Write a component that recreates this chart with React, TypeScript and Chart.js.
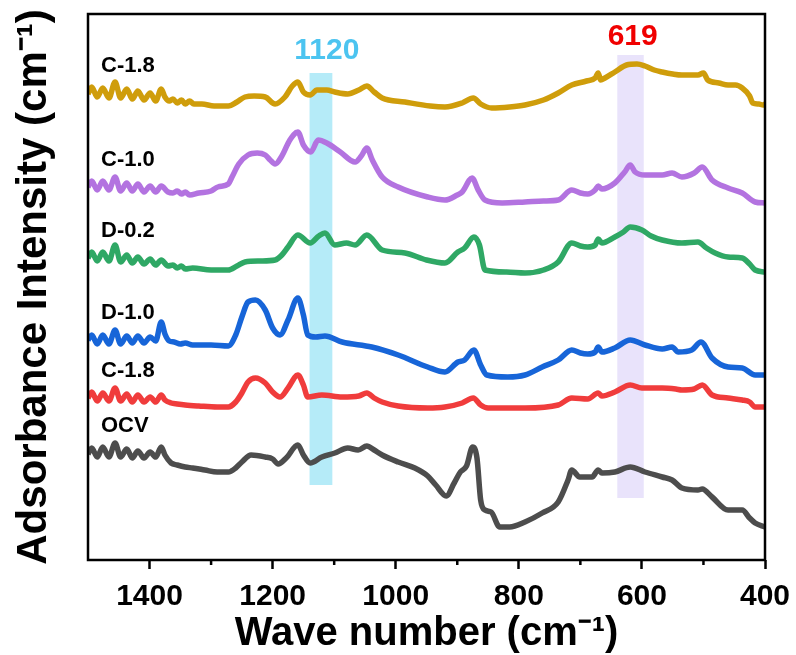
import React, { useEffect, useRef } from 'react';
import { Chart, registerables } from 'chart.js';

Chart.register(...registerables);

const FONT = "'Liberation Sans', Arial, sans-serif";

// x axis (wave number, cm-1)
const xMajorTicks = [1400, 1200, 1000, 800, 600, 400];
const xMinorTicks = [1300, 1100, 900, 700, 500];

// series names (top to bottom)
const seriesNames = ['C-1.8', 'C-1.0', 'D-0.2', 'D-1.0', 'C-1.8', 'OCV'];
const seriesColors = ['#CF9D0B', '#B373E0', '#2FA865', '#1765D8', '#F03C3C', '#4D4D4D'];

// C-1.8 (top, gold)
const c18TopWn = [1500,1494,1485,1476,1466,1456,1447,1437,1428,1419,1409,1399,1390,1381,1375,1368,1362,1355,1348,1342,1335,1328,1315,1295,1272,1258,1245,1230,1212,1196,1180,1168,1159,1150,1139,1128,1112,1099,1078,1060,1047,1035,1022,985,944,920,892,874,862,844,815,790,760,736,714,690,676,671,667,660,644,625,608,595,580,567,550,535,509,500,493,475,460,448,437,425,420,410,403,400];
const c18TopAbs = [466,473,463,472,462,478,462,471,461,469,460,467,459,471,463,459,461,457,460,456,459,456,456,454,454,458,463,464,463,456,463,474,478,468,465,470,470,468,466,470,474,468,462,458,454,453,457,462,456,452,453,455,460,467,475,479,482,487,480,482,488,495,496,494,490,488,486,485,485,487,480,477,475,475,472,464,457,456,455,456];

// C-1.0 (purple)
const c10Wn = [1500,1494,1485,1476,1466,1456,1447,1437,1428,1419,1409,1399,1390,1381,1370,1362,1355,1348,1342,1335,1320,1300,1289,1272,1266,1255,1240,1225,1212,1204,1196,1185,1172,1159,1150,1138,1126,1112,1090,1066,1056,1047,1038,1022,996,948,920,900,892,876,866,855,827,790,760,736,714,700,688,676,671,665,644,628,619,611,595,567,551,535,515,502,486,460,437,416,400];
const c10Abs = [373,379,370,379,370,383,369,377,369,376,368,374,368,374,368,367,369,366,368,365,367,369,373,376,383,396,405,407,405,400,396,404,420,428,415,408,420,417,408,398,404,412,400,383,373,363,360,365,368,382,370,360,357,358,359,360,370,367,366,370,374,371,377,388,395,388,385,385,387,383,387,393,380,372,367,358,357];

// D-0.2 (green)
const d02Wn = [1500,1494,1485,1476,1466,1456,1447,1437,1428,1419,1409,1399,1390,1381,1370,1362,1355,1348,1342,1330,1300,1272,1258,1245,1220,1196,1185,1175,1159,1139,1125,1115,1099,1080,1066,1047,1022,985,950,920,899,888,873,864,855,820,790,760,736,714,700,688,676,671,665,644,630,619,600,585,567,535,509,495,481,460,437,425,416,400];
const d02Abs = [302,308,299,308,299,315,298,305,297,303,296,301,295,300,294,295,292,294,291,292,290,290,294,298,299,300,305,313,325,317,324,327,315,317,315,325,310,307,300,297,308,312,323,315,290,288,287,290,298,317,314,313,315,321,317,323,328,333,330,324,320,317,318,312,307,303,302,296,290,288];

// D-1.0 (blue)
const d10Wn = [1500,1494,1485,1476,1466,1456,1447,1437,1428,1419,1409,1399,1390,1381,1375,1368,1360,1350,1342,1330,1300,1272,1260,1250,1240,1228,1212,1200,1188,1175,1159,1150,1143,1130,1115,1087,1039,996,948,920,899,888,873,862,852,818,790,762,736,714,700,688,676,671,665,644,619,595,567,551,541,519,504,486,460,437,416,400];
const d10Abs = [220,225,216,225,216,230,216,224,217,224,217,223,219,238,226,219,218,216,217,215,215,214,225,243,258,260,250,232,225,240,262,245,225,223,224,218,213,205,193,188,198,200,210,195,185,183,185,193,200,210,207,206,208,213,208,212,220,215,211,213,208,210,218,202,193,192,185,185];

// C-1.8 (lower, red)
const c18LowWn = [1500,1494,1485,1476,1466,1456,1447,1437,1428,1419,1409,1399,1390,1381,1375,1365,1355,1342,1320,1290,1272,1260,1250,1240,1228,1212,1200,1188,1175,1159,1150,1143,1120,1087,1060,1047,1035,1022,996,948,920,892,874,862,850,790,736,714,688,671,665,644,619,600,567,545,535,515,502,486,460,437,425,416,400];
const c18LowAbs = [162,168,159,167,159,172,159,166,158,165,158,163,158,165,160,157,156,155,154,153,153,158,167,178,182,177,168,163,172,185,175,163,165,163,164,167,162,158,154,152,153,157,162,155,152,152,155,162,161,167,164,168,175,172,172,171,170,171,175,165,162,160,158,153,153];

// OCV (dark grey)
const ocvWn = [1500,1494,1485,1476,1466,1456,1447,1437,1428,1419,1409,1399,1390,1381,1375,1365,1355,1342,1330,1310,1290,1272,1260,1250,1235,1212,1200,1191,1178,1159,1150,1139,1120,1099,1078,1061,1047,1035,1022,996,969,948,935,918,905,895,885,875,868,862,855,845,831,815,790,762,736,720,714,701,681,671,665,644,619,595,567,551,535,509,502,486,460,437,425,416,400];
const ocvAbs = [106,112,103,113,103,117,103,111,102,109,102,108,103,113,105,97,95,93,92,90,88,88,92,98,105,103,101,96,102,115,105,97,103,107,112,110,114,110,105,98,92,84,75,64,77,88,94,113,102,60,50,48,33,33,38,47,58,80,90,83,83,90,87,88,93,88,83,80,72,70,71,63,50,50,42,37,33];

const seriesWn = [c18TopWn, c10Wn, d02Wn, d10Wn, c18LowWn, ocvWn];
const seriesAbs = [c18TopAbs, c10Abs, d02Abs, d10Abs, c18LowAbs, ocvAbs];

// highlighted bands (wave number ranges) and their labels
const bandFrom = [1140, 640];
const bandTo = [1103, 597];
const bandLow = [75, 62];
const bandHigh = [487, 505];
const bandColors = ['#B5EBF8', '#E9E3FB'];
const bandLabels = ['1120', '619'];
const bandLabelWn = [1112, 615];
const bandLabelAbs = [509, 523];
const bandLabelColors = ['#4CC4F0', '#F00000'];

const Y_MAX = 546;

const decorPlugin = {
  id: 'decor',
  beforeDatasetsDraw(chart: any) {
    const { ctx, scales } = chart;
    const x = scales.x, y = scales.y;
    ctx.save();
    for (let i = 0; i < bandFrom.length; i++) {
      const x1 = x.getPixelForValue(bandFrom[i]);
      const x2 = x.getPixelForValue(bandTo[i]);
      const y1 = y.getPixelForValue(bandHigh[i]);
      const y2 = y.getPixelForValue(bandLow[i]);
      ctx.fillStyle = bandColors[i];
      ctx.fillRect(Math.min(x1, x2), y1, Math.abs(x2 - x1), y2 - y1);
    }
    ctx.restore();
  },
  afterDraw(chart: any) {
    const { ctx, chartArea, scales } = chart;
    const x = scales.x, y = scales.y;
    ctx.save();
    // frame
    ctx.strokeStyle = '#000';
    ctx.lineWidth = 2.5;
    ctx.strokeRect(chartArea.left, chartArea.top, chartArea.right - chartArea.left, chartArea.bottom - chartArea.top);
    // minor ticks
    xMinorTicks.forEach((v) => {
      const px = x.getPixelForValue(v);
      ctx.beginPath();
      ctx.moveTo(px, chartArea.bottom);
      ctx.lineTo(px, chartArea.bottom + 5);
      ctx.stroke();
    });
    // series labels
    ctx.fillStyle = '#000';
    ctx.font = `bold 22px ${FONT}`;
    ctx.textAlign = 'left';
    ctx.textBaseline = 'middle';
    seriesNames.forEach((name, i) => {
      const vals = seriesAbs[i].slice(0, 10);
      const mean = vals.reduce((a, b) => a + b, 0) / vals.length;
      ctx.fillText(name, chartArea.left + 13, y.getPixelForValue(mean + 26));
    });
    // band labels
    ctx.font = `bold 30px ${FONT}`;
    ctx.textAlign = 'center';
    bandLabels.forEach((lbl, i) => {
      ctx.fillStyle = bandLabelColors[i];
      ctx.fillText(lbl, x.getPixelForValue(bandLabelWn[i]), y.getPixelForValue(bandLabelAbs[i]));
    });
    ctx.restore();
  },
};

export default function App() {
  const canvasRef = useRef<HTMLCanvasElement>(null);

  useEffect(() => {
    if (!canvasRef.current) return;
    const datasets = seriesNames.map((name, i) => ({
      label: name,
      data: seriesWn[i].map((w, j) => ({ x: w, y: seriesAbs[i][j] })),
      borderColor: seriesColors[i],
      backgroundColor: seriesColors[i],
      borderWidth: 5.5,
      pointRadius: 0,
      cubicInterpolationMode: 'monotone' as const,
      fill: false,
    }));
    const chart = new Chart(canvasRef.current, {
      type: 'line',
      data: { datasets },
      plugins: [decorPlugin],
      options: {
        animation: false,
        responsive: false,
        maintainAspectRatio: false,
        devicePixelRatio: 1,
        layout: { padding: { top: 14, right: 31, left: 0, bottom: 0 } },
        plugins: { legend: { display: false }, tooltip: { enabled: false } },
        scales: {
          x: {
            type: 'linear',
            min: 400,
            max: 1500,
            reverse: true,
            afterBuildTicks: (s: any) => {
              s.ticks = xMajorTicks.map((v) => ({ value: v }));
            },
            afterFit: (s: any) => {
              s.height = 95;
              s.paddingLeft = 0;
              s.paddingRight = 0;
            },
            ticks: {
              autoSkip: false,
              maxRotation: 0,
              padding: 10,
              color: '#000',
              font: { family: FONT, size: 30, weight: 'bold' },
              callback: (v: any) => String(v),
            },
            grid: {
              display: true,
              drawOnChartArea: false,
              drawTicks: true,
              tickLength: 9,
              tickWidth: 2.5,
              tickColor: '#000',
            },
            border: { display: false },
            title: {
              display: true,
              text: 'Wave number (cm⁻¹)',
              color: '#000',
              font: { family: FONT, size: 40, weight: 'bold', lineHeight: 1 },
              padding: { top: 0, bottom: 1 },
            },
          },
          y: {
            type: 'linear',
            min: 0,
            max: Y_MAX,
            afterFit: (s: any) => {
              s.width = 88;
            },
            ticks: { display: false },
            grid: { display: false, drawTicks: false },
            border: { display: false },
            title: {
              display: true,
              text: 'Adsorbance Intensity (cm⁻¹)',
              color: '#000',
              font: { family: FONT, size: 42, weight: 'bold', lineHeight: 1 },
              padding: { top: 13, bottom: 0 },
            },
          },
        },
      },
    });
    return () => chart.destroy();
  }, []);

  return (
    <div style={{ position: 'fixed', left: 0, top: 0, width: 796, height: 655, background: '#fff' }}>
      <canvas ref={canvasRef} width={796} height={655} style={{ width: 796, height: 655 }} />
    </div>
  );
}
